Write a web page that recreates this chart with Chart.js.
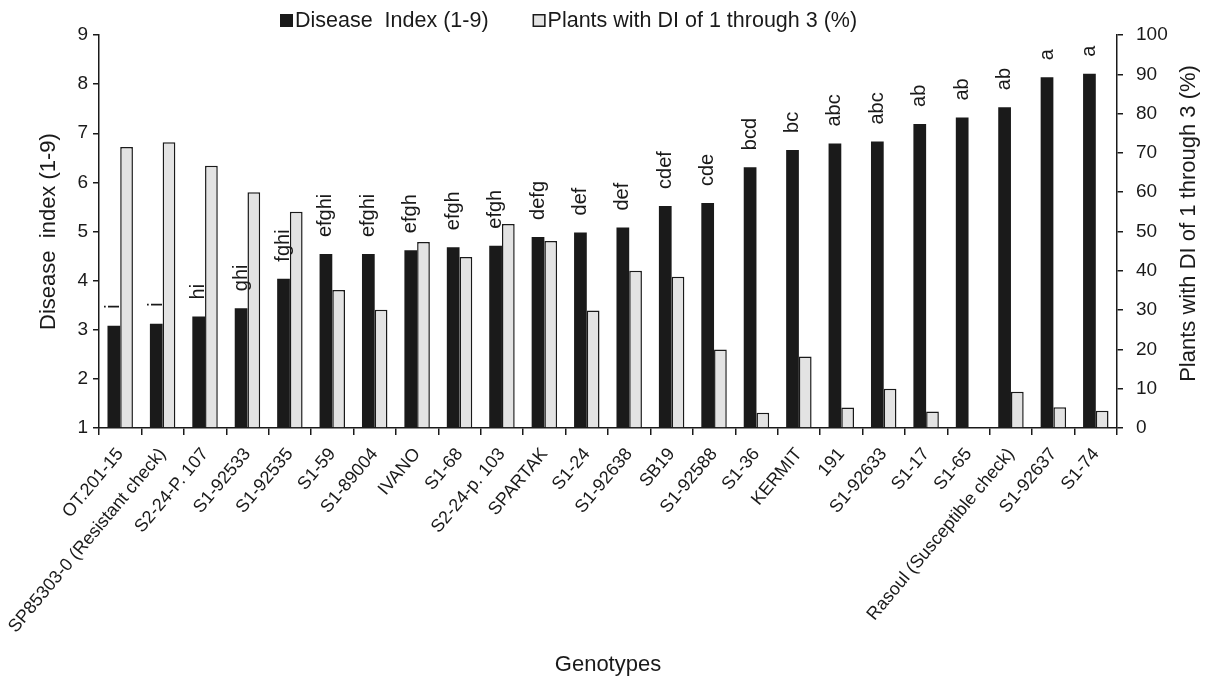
<!DOCTYPE html>
<html>
<head>
<meta charset="utf-8">
<script src="https://cdn.jsdelivr.net/npm/chart.js@4.4.1/dist/chart.umd.min.js"></script>
<style>
  html, body { margin: 0; padding: 0; background: #fff; }
  #graph { display: block; }
</style>
</head>
<body>
<canvas id="graph" width="1212" height="678"></canvas>
<script>
var genotypes = ["OT.201-15", "SP85303-0 (Resistant check)", "S2-24-P. 107", "S1-92533", "S1-92535",
  "S1-59", "S1-89004", "IVANO", "S1-68", "S2-24-p. 103", "SPARTAK", "S1-24", "S1-92638", "SB19",
  "S1-92588", "S1-36", "KERMIT", "191", "S1-92633", "S1-17", "S1-65", "Rasoul (Susceptible check)",
  "S1-92637", "S1-74"];

var diseaseIndex = [3.08, 3.12, 3.27, 3.44, 4.04, 4.54, 4.54, 4.62, 4.68, 4.71, 4.89, 4.98,
  5.08, 5.52, 5.58, 6.31, 6.66, 6.79, 6.83, 7.19, 7.32, 7.53, 8.14, 8.21];

var plantsLowDI = [71.5, 72.7, 66.7, 60.0, 55.0, 35.1, 30.1, 47.3, 43.5, 51.9, 47.6, 29.9,
  40.0, 38.5, 20.0, 3.9, 18.2, 5.2, 10.0, 4.2, 0, 9.2, 5.3, 4.4];

var groupLetters = ["i", "i", "hi", "ghi", "fghi", "efghi", "efghi", "efgh", "efgh", "efgh", "defg", "def",
  "def", "cdef", "cde", "bcd", "bc", "abc", "abc", "ab", "ab", "ab", "a", "a"];

var seriesNames = ["Disease  Index (1-9)", "Plants with DI of 1 through 3 (%)"];
var rightTitle = "Plants with DI of 1 through 3 (%)";

var FONT = "'Liberation Sans', Arial, sans-serif";
var INK = "#1a1a1a";

// letters written above the black bars
var letterPlugin = {
  id: "letters",
  afterDatasetsDraw: function (chart) {
    var ctx = chart.ctx;
    var meta = chart.getDatasetMeta(0);
    ctx.save();
    ctx.fillStyle = INK;
    ctx.font = "20px " + FONT;
    ctx.textAlign = "left";
    ctx.textBaseline = "middle";
    meta.data.forEach(function (bar, i) {
      ctx.save();
      ctx.translate(bar.x, bar.y - 17);
      ctx.rotate(-Math.PI / 2);
      ctx.fillText(groupLetters[i], 0, 0);
      ctx.restore();
    });
    ctx.restore();
  }
};

// right axis title reads bottom to top, like the left one
var rightTitlePlugin = {
  id: "rightTitle",
  afterDraw: function (chart) {
    var s = chart.scales.y1;
    var ctx = chart.ctx;
    ctx.save();
    ctx.fillStyle = INK;
    ctx.font = "22px " + FONT;
    ctx.textAlign = "center";
    ctx.textBaseline = "middle";
    ctx.translate(s.right - 23, (s.top + s.bottom) / 2 - 8);
    ctx.rotate(-Math.PI / 2);
    ctx.fillText(rightTitle, 0, 0);
    ctx.restore();
  }
};

// legend in the same style as the original (small boxes, tight gap)
var legendPlugin = {
  id: "topLegend",
  afterDraw: function (chart) {
    var ctx = chart.ctx;
    var sets = chart.data.datasets;
    var x = 280;
    ctx.save();
    ctx.font = "21.5px " + FONT;
    ctx.textBaseline = "middle";
    ctx.textAlign = "left";
    sets.forEach(function (ds, i) {
      ctx.fillStyle = ds.backgroundColor;
      ctx.fillRect(x, 14, 13, 13);
      ctx.strokeStyle = INK;
      ctx.lineWidth = 1.5;
      ctx.strokeRect(x + 0.75, 14.75, 11.5, 11.5);
      ctx.fillStyle = INK;
      ctx.fillText(ds.label, x + 15, 21);
      x += 15 + ctx.measureText(ds.label).width + 44;
    });
    ctx.restore();
  }
};

var ctx = document.getElementById("graph").getContext("2d");

var chart = new Chart(ctx, {
  type: "bar",
  data: {
    labels: genotypes,
    datasets: [
      {
        label: seriesNames[0],
        data: diseaseIndex,
        yAxisID: "y",
        backgroundColor: INK,
        borderWidth: 0,
        categoryPercentage: 0.6,
        barPercentage: 1.0
      },
      {
        label: seriesNames[1],
        data: plantsLowDI,
        yAxisID: "y1",
        backgroundColor: "#e3e3e3",
        borderColor: INK,
        borderWidth: 1.5,
        borderSkipped: "start",
        categoryPercentage: 0.6,
        barPercentage: 1.0
      }
    ]
  },
  options: {
    responsive: false,
    animation: false,
    layout: { padding: { top: 35, left: 0, right: 0, bottom: 0 } },
    plugins: {
      legend: { display: false },
      tooltip: { enabled: false }
    },
    scales: {
      x: {
        grid: { display: true, drawOnChartArea: false, offset: true, color: INK, tickLength: 7, lineWidth: 1.5 },
        border: { display: true, color: INK, width: 1.5 },
        ticks: {
          autoSkip: false,
          maxRotation: 50,
          minRotation: 50,
          padding: 9,
          color: INK,
          font: { family: FONT, size: 18 }
        },
        title: {
          display: true,
          text: "Genotypes",
          color: INK,
          font: { family: FONT, size: 22 },
          padding: { top: 0, bottom: 0 }
        },
        afterFit: function (scale) { scale.height = 250; }
      },
      y: {
        position: "left",
        min: 1,
        max: 9,
        ticks: { stepSize: 1, color: INK, padding: 5, font: { family: FONT, size: 19 } },
        grid: { display: true, drawOnChartArea: false, color: INK, tickLength: 6, lineWidth: 1.5 },
        border: { display: true, color: INK, width: 1.5 },
        title: {
          display: true,
          text: "Disease  index (1-9)",
          color: INK,
          font: { family: FONT, size: 22 },
          padding: { top: 36, bottom: 0 }
        },
        afterFit: function (scale) { scale.width = 99; }
      },
      y1: {
        position: "right",
        min: 0,
        max: 100,
        ticks: { stepSize: 10, color: INK, padding: 13, font: { family: FONT, size: 19 } },
        grid: { display: true, drawOnChartArea: false, color: INK, tickLength: 6, lineWidth: 1.5 },
        border: { display: true, color: INK, width: 1.5 },
        title: { display: false },
        afterFit: function (scale) { scale.width = 95; }
      }
    }
  },
  plugins: [letterPlugin, rightTitlePlugin, legendPlugin]
});
</script>
</body>
</html>
